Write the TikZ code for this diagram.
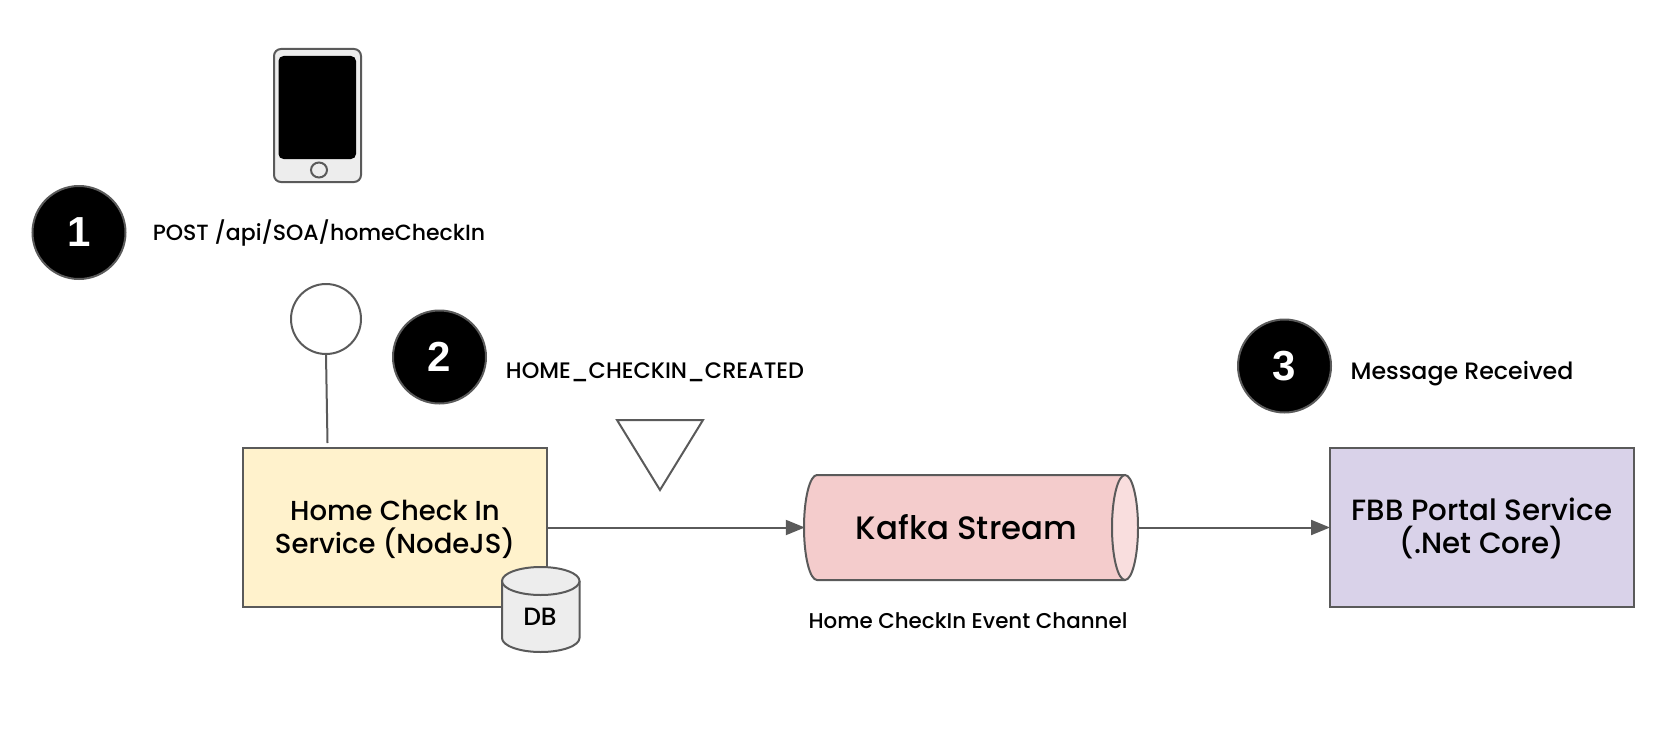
\documentclass[tikz,border=0pt]{standalone}
\usepackage{fontspec}
\setmainfont{Poppins Medium}
\newfontfamily\digitfont{Liberation Sans}[BoldFont={Liberation Sans Bold}]
\usetikzlibrary{arrows.meta,shapes.geometric}
\definecolor{edge}{HTML}{5A5A5A}
\definecolor{soft}{HTML}{EDEDED}
\definecolor{cream}{HTML}{FFF2CC}
\definecolor{rose}{HTML}{F4CCCC}
\definecolor{roselight}{HTML}{F9DEDE}
\definecolor{lilac}{HTML}{D9D2E9}
\tikzset{
  x=1pt,y=-1pt,
  outline/.style={draw=edge,line width=2pt},
  servicebox/.style={outline,minimum width=304pt,minimum height=159pt,inner sep=0pt,align=center},
  badge/.style={circle,draw=edge,fill=black,line width=2pt,minimum size=93pt,inner sep=0pt,text=white,font=\digitfont\bfseries\fontsize{42}{42}\selectfont},
  caption/.style={inner sep=0pt},
  flow/.style={draw=edge,line width=2pt,-{Triangle[length=19pt,width=15pt]},shorten >=-1pt}
}
\begin{document}
\begin{tikzpicture}
\useasboundingbox (0,0) rectangle (1675,752);
% phone
\draw[outline,fill=soft,rounded corners=7pt] (274,49) rectangle (361,182);
\fill[black,rounded corners=5pt] (278.5,56) rectangle (356,159);
\node[draw=edge,line width=2pt,fill=soft,ellipse,minimum width=16pt,minimum height=15pt,inner sep=0pt] (home) at (319,170) {};
% badges
\node[badge] (b1) at (79,232.5) {1};
\node[badge] (b2) at (439.5,357) {2};
\node[badge] (b3) at (1284.5,366) {3};
% captions
\node[caption,font=\fontsize{22}{26}\selectfont] (t1) at (319,233) {POST /api/SOA/homeCheckIn};
\node[caption,font=\fontsize{22.4}{26}\selectfont] (t2) at (655,372) {HOME\_CHECKIN\_CREATED};
\node[caption,font=\fontsize{23.7}{26}\selectfont] (t3) at (1462,374) {Message Received};
\node[caption,font=\fontsize{21.4}{26}\selectfont] (t4) at (968,621) {Home CheckIn Event Channel};
% interface lollipop
\node[circle,draw=edge,line width=2pt,minimum size=70pt,inner sep=0pt] (port) at (326,319) {};
\coordinate (portend) at (327.5,443);
\draw[outline] (port.south) -- (portend);
% services
\node[servicebox,fill=cream,font=\fontsize{27.5}{33.5}\selectfont] (svc) at (395,527.5) {\rule{0pt}{24pt}Home Check In\\Service (NodeJS)};
\node[servicebox,fill=lilac,font=\fontsize{29.3}{33.5}\selectfont] (fbb) at (1482,527.5) {\rule{0pt}{24pt}FBB Portal Service\\(.Net Core)};
% database
\draw[outline,fill=soft] (502,581) -- (502,638) arc[start angle=180,end angle=0,x radius=38.75,y radius=14] -- (579.5,581);
\draw[outline,fill=soft] (540.75,581) ellipse [x radius=38.75,y radius=14];
\node[inner sep=0pt,font=\fontsize{25}{28}\selectfont] (db) at (540,617) {DB};
% marker triangle
\draw[outline,line join=miter] (617,420) -- (703,420) -- (660,490) -- cycle;
% kafka cylinder
\draw[outline,fill=rose] (1125,475) -- (817,475) arc[start angle=-90,end angle=-270,x radius=13,y radius=52.5] -- (1125,580);
\draw[outline,fill=roselight] (1125,527.5) ellipse [x radius=13,y radius=52.5];
\node[inner sep=0pt,minimum width=334pt,minimum height=105pt,font=\fontsize{32.4}{36}\selectfont] (kafka) at (971,527.5) {\hspace*{-9pt}Kafka Stream};
% flows
\draw[flow] (svc.east) -- (kafka.west);
\draw[flow] (kafka.east) -- (fbb.west);
\end{tikzpicture}
\end{document}
